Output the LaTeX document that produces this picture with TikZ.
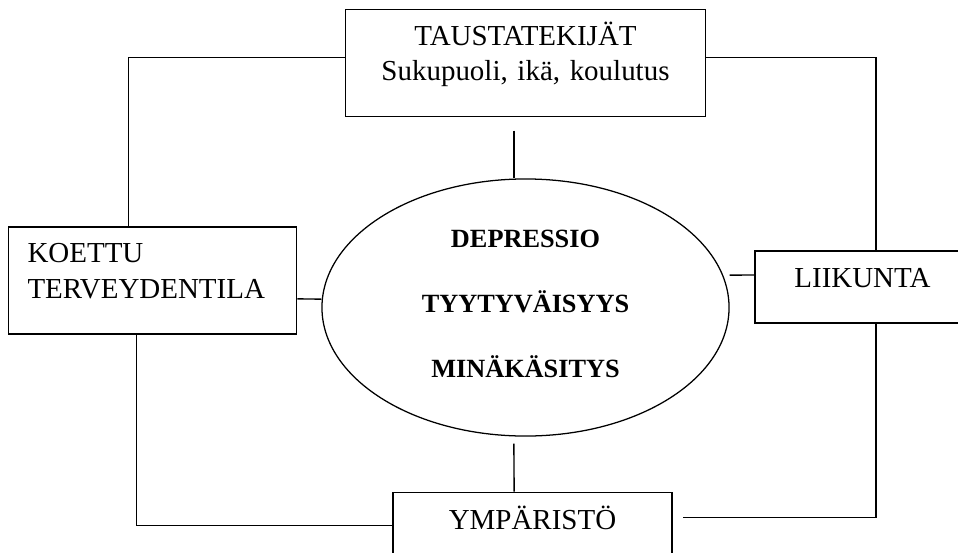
\documentclass[tikz,border=0pt]{standalone}
\usepackage{fontspec}
\setmainfont{Liberation Serif}
\usetikzlibrary{positioning,shapes.geometric}
\tikzset{
box/.style={draw,line width=1pt,minimum height=2.675cm,text height=0.6cm,text depth=1.475cm,font=\fontsize{20.6}{24.9}\selectfont},
flatbox/.style={draw,line width=1pt,minimum height=1.8cm,text height=0.55cm,text depth=0.5cm,font=\fontsize{20.6}{24.9}\selectfont},
oval/.style={draw,ellipse,line width=0.9pt,minimum width=10.175cm,minimum height=6.425cm,text width=5.8cm,align=center,text height=0.5cm,text depth=3.475cm,font=\fontsize{18.7}{46.2}\selectfont\bfseries},
link/.style={line width=1pt}
}
\begin{document}
\begin{tikzpicture}[x=0.025cm,y=-0.025cm]
\useasboundingbox (0,0) rectangle (958,552);
\node[oval](ell) at (525.5,307.5){DEPRESSIO\\TYYTYV\"AISYYS\\MIN\"AK\"ASITYS};
\node[box,text width=8cm,align=center,minimum width=9cm,above=1.525cm of ell](taus){TAUSTATEKIJ\"AT\\Sukupuoli, ik\"a, koulutus};
\node[box,align=left,text width=6.25cm,minimum width=7.2cm,left=0.6cm of ell,yshift=0.675cm](koettu){KOETTU\\TERVEYDENTILA};
\node[flatbox,minimum width=5.375cm,right=0.6125cm of ell,yshift=0.5125cm](liik){LIIKUNTA};
\node[flatbox,minimum width=6.975cm,below=1.375cm of ell,xshift=0.175cm](ymp){YMP\"ARIST\"O};
\draw[link]([yshift=0.1375cm]taus.west)-|([xshift=-0.6cm]koettu.north);\draw[link]([yshift=0.1375cm]taus.east)-|([xshift=0.3375cm]liik.north);
\draw[link]([xshift=-2.9mm,yshift=-3.3mm]taus.south)--([xshift=-2.9mm]ell.north);\draw[link]([xshift=-2.9mm,yshift=-1.75mm]ell.south)--([xshift=-4.6mm]ymp.north);
\draw[link]([yshift=-4.6mm]koettu.east)--([yshift=2.1mm]ell.west);\draw[link]([yshift=8.1mm]ell.east)--([yshift=3mm]liik.west);
\draw[link]([xshift=-4mm]koettu.south)|-([yshift=0.75mm]ymp.west);\draw[link]([xshift=3.4mm]liik.south)|-([xshift=2.5mm,yshift=2.75mm]ymp.east);
\end{tikzpicture}
\end{document}
